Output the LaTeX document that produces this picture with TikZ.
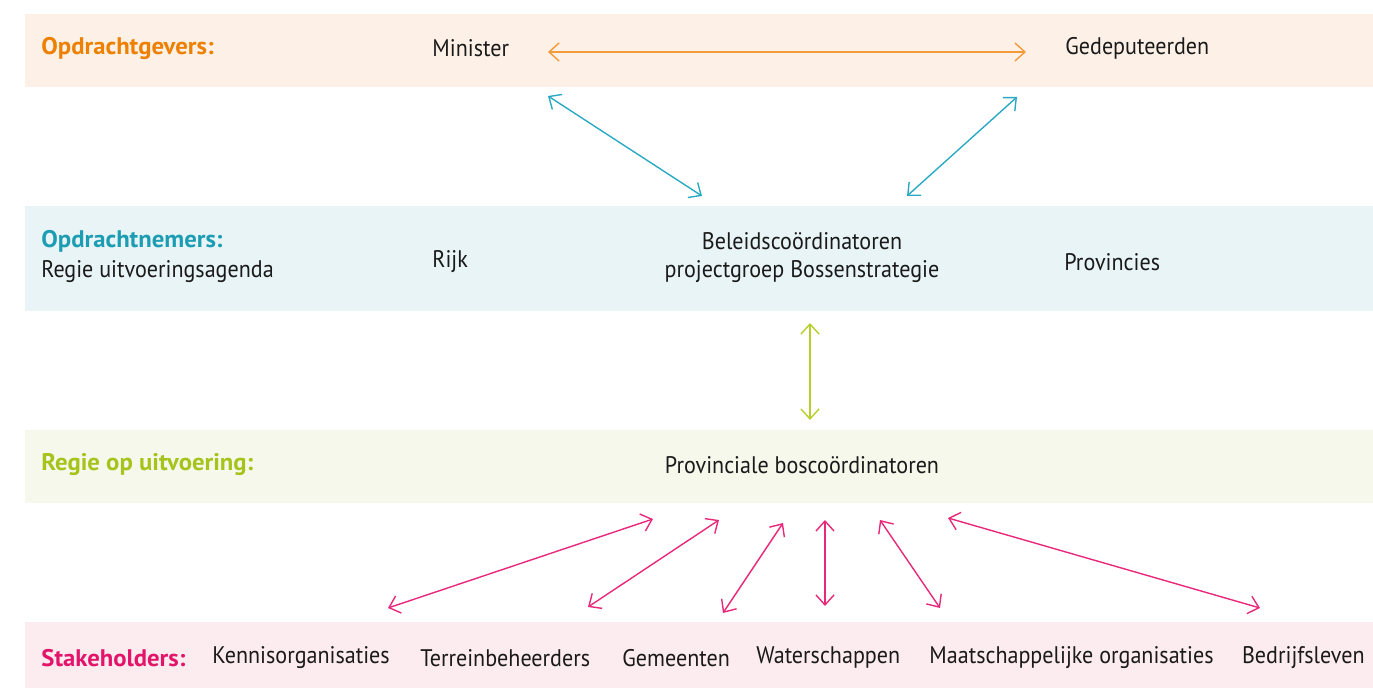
\documentclass[tikz,border=0pt]{standalone}
\usepackage{fontspec}
\setmainfont{PT Sans}[FakeStretch=0.92, BoldFeatures={FakeStretch=1.03}]
\usetikzlibrary{arrows.meta}
\definecolor{orTxt}{HTML}{EE8000}
\definecolor{orBand}{HTML}{FDF1E7}
\definecolor{orArr}{HTML}{F39A3A}
\definecolor{tlTxt}{HTML}{1D9DB3}
\definecolor{tlBand}{HTML}{E8F4F6}
\definecolor{tlArr}{HTML}{2AAAC2}
\definecolor{grTxt}{HTML}{A6C31B}
\definecolor{grBand}{HTML}{F6F8EC}
\definecolor{grArr}{HTML}{B4D02C}
\definecolor{pkTxt}{HTML}{E2156B}
\definecolor{pkBand}{HTML}{FCEBEF}
\definecolor{pkArr}{HTML}{E8287A}
\definecolor{ink}{HTML}{1A1A1A}
\tikzset{
  band/.style={fill=#1, draw=none},
  txt/.style={inner sep=0pt, text=ink, font=\fontsize{12}{14}\selectfont},
  head/.style={inner sep=0pt, font=\fontsize{12}{14}\selectfont\bfseries, text=#1},
  link/.style={draw=#1, line width=0.7pt, {Straight Barb[length=5pt,width=9pt]}-{Straight Barb[length=5pt,width=9pt]}},
}
\begin{document}
\begin{tikzpicture}[x=0.5pt,y=-0.5pt]
\useasboundingbox (0,0) rectangle (1373,688);
% bands
\fill[band=orBand] (25,14) rectangle (1373,87);
\fill[band=tlBand] (25,206) rectangle (1373,311);
\fill[band=grBand] (25,430) rectangle (1373,503);
\fill[band=pkBand] (25,622) rectangle (1373,688);
% row 1
\node[head=orTxt, anchor=west] (hOg) at (41,48) {Opdrachtgevers:};
\node[txt, anchor=west] (min) at (432,48) {Minister};
\node[txt, anchor=west] (ged) at (1065,48) {Gedeputeerden};
% row 2
\node[head=tlTxt, anchor=west] (hOn) at (41,241) {Opdrachtnemers:};
\node[txt, anchor=west] (regie) at (41,272) {Regie uitvoeringsagenda};
\node[txt, anchor=west] (rijk) at (432,262) {Rijk};
\node[txt] (bel) at (802,241) {Beleidscoördinatoren};
\node[txt] (proj) at (802,272) {projectgroep Bossenstrategie};
\node[txt, anchor=west] (prov) at (1064,262) {Provincies};
% row 3
\node[head=grTxt, anchor=west] (hRu) at (41,465) {Regie op uitvoering:};
\node[txt] (pbc) at (802,465) {Provinciale boscoördinatoren};
% row 4
\node[head=pkTxt, anchor=west] (hSt) at (41,658) {Stakeholders:};
\node[txt, anchor=west] (ken) at (212,658) {Kennisorganisaties};
\node[txt, anchor=west] (ter) at (420,658) {Terreinbeheerders};
\node[txt, anchor=west] (gem) at (622,658) {Gemeenten};
\node[txt, anchor=west] (wat) at (756,658) {Waterschappen};
\node[txt, anchor=west] (maa) at (929,658) {Maatschappelijke organisaties};
\node[txt, anchor=east] (bed) at (1365,658) {Bedrijfsleven};
% connector end points
\coordinate (minR) at (548,52);
\coordinate (gedL) at (1026,52);
\coordinate (minB) at (548,96);
\coordinate (gedB) at (1017,97);
\coordinate (belL) at (702,196);
\coordinate (belR) at (907,196);
\coordinate (projB) at (810,323);
\coordinate (pbcT) at (810,420);
\coordinate (p1) at (653,519);
\coordinate (p2) at (719,520);
\coordinate (p3) at (783,523);
\coordinate (p4) at (825,520);
\coordinate (p5) at (880,520);
\coordinate (p6) at (948,518);
\coordinate (kenT) at (388,608);
\coordinate (terT) at (588,607);
\coordinate (gemT) at (723,613);
\coordinate (watT) at (825,606);
\coordinate (maaT) at (940,608);
\coordinate (bedT) at (1260,608);
% connectors
\draw[link=orArr] (minR) -- (gedL);
\draw[link=tlArr] (minB) -- (belL);
\draw[link=tlArr] (gedB) -- (belR);
\draw[link=grArr] (projB) -- (pbcT);
\draw[link=pkArr] (p1) -- (kenT);
\draw[link=pkArr] (p2) -- (terT);
\draw[link=pkArr] (p3) -- (gemT);
\draw[link=pkArr] (p4) -- (watT);
\draw[link=pkArr] (p5) -- (maaT);
\draw[link=pkArr] (p6) -- (bedT);
\end{tikzpicture}
\end{document}
